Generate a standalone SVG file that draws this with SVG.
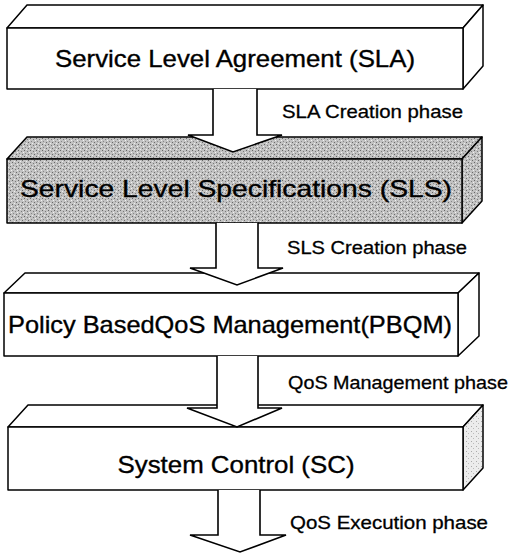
<svg xmlns="http://www.w3.org/2000/svg" width="510" height="557" viewBox="0 0 510 557">
<defs>
<pattern id="stip" width="6" height="6" patternUnits="userSpaceOnUse">
<rect width="6" height="6" fill="#c2c2c2"/>
<rect x="0" y="0" width="1" height="1" fill="#666"/>
<rect x="3" y="1" width="1" height="1" fill="#7a7a7a"/>
<rect x="1" y="3" width="1" height="1" fill="#888"/>
<rect x="4" y="4" width="1" height="1" fill="#6a6a6a"/>
<rect x="2" y="5" width="1" height="1" fill="#eee"/>
<rect x="5" y="2" width="1" height="1" fill="#f2f2f2"/>
</pattern>
<pattern id="light" width="5" height="5" patternUnits="userSpaceOnUse">
<rect width="5" height="5" fill="#ececec"/>
<rect x="1" y="1" width="1" height="1" fill="#aaa"/>
<rect x="3" y="3" width="1" height="1" fill="#bbb"/>
</pattern>
</defs>
<style>
.face{fill:#fff;stroke:#000;stroke-width:1.5;stroke-linejoin:round}
.gray{fill:url(#stip)}
.main{font-family:"Liberation Sans",Arial,sans-serif;font-size:24px;fill:#000;stroke:#000;stroke-width:0.35;text-anchor:middle}
.lbl{font-family:"Liberation Sans",Arial,sans-serif;font-size:18.5px;fill:#000;stroke:#000;stroke-width:0.3}
.arrow{fill:#fff;stroke:#000;stroke-width:1.6;stroke-linejoin:miter}
</style>
<g id="sla">
<polygon class="face" points="7,28 27,5 483,5 463,28"/>
<polygon class="face" points="463,28 483,5 483,66 463,89"/>
<rect class="face" x="7" y="28" width="456" height="61"/>
<text class="main" x="235" y="67" textLength="360" lengthAdjust="spacingAndGlyphs">Service Level Agreement (SLA)</text>
</g>
<g id="sls">
<polygon class="face gray" points="7,159 27,137 482,137 462,159"/>
<polygon class="face gray" points="462,159 482,137 482,201 462,223"/>
<rect class="face gray" x="7" y="159" width="455" height="64"/>
<text class="main" x="236" y="197" textLength="432" lengthAdjust="spacingAndGlyphs">Service Level Specifications (SLS)</text>
</g>
<g id="pbqm">
<polygon class="face" points="4,293 25,273 479,273 458,293"/>
<polygon class="face" points="458,293 479,273 479,336 458,356"/>
<rect class="face" x="4" y="293" width="454" height="63"/>
<text class="main" x="230" y="333" textLength="444" lengthAdjust="spacingAndGlyphs">Policy BasedQoS Management(PBQM)</text>
</g>
<g id="sc">
<polygon class="face" points="8,427 28,405 483,405 463,427"/>
<polygon class="face" points="463,427 483,405 483,468 463,490" style="fill:url(#light)"/>
<rect class="face" x="8" y="427" width="455" height="63"/>
<text class="main" x="236" y="473" textLength="237" lengthAdjust="spacingAndGlyphs">System Control (SC)</text>
</g>
<g id="connectors">
<path class="arrow" d="M213,89 L213,135 L188,135 L233,152 L282,135 L257,135 L257,89"/>
<path class="arrow" d="M216,223 L216,268 L190,268 L237,285 L283,268 L258,268 L258,223"/>
<path class="arrow" d="M217,356 L217,408 L187,408 L237,427 L282,408 L258,408 L258,356"/>
<path class="arrow" d="M218,490 L218,535 L190,535 L240,552 L286,535 L260,535 L260,490"/>
<text class="lbl" x="282" y="118" textLength="181" lengthAdjust="spacingAndGlyphs">SLA Creation phase</text>
<text class="lbl" x="287" y="254" textLength="180" lengthAdjust="spacingAndGlyphs">SLS Creation phase</text>
<text class="lbl" x="288" y="389" textLength="220" lengthAdjust="spacingAndGlyphs">QoS Management phase</text>
<text class="lbl" x="290" y="529" textLength="198" lengthAdjust="spacingAndGlyphs">QoS Execution phase</text>
</g>
</svg>
